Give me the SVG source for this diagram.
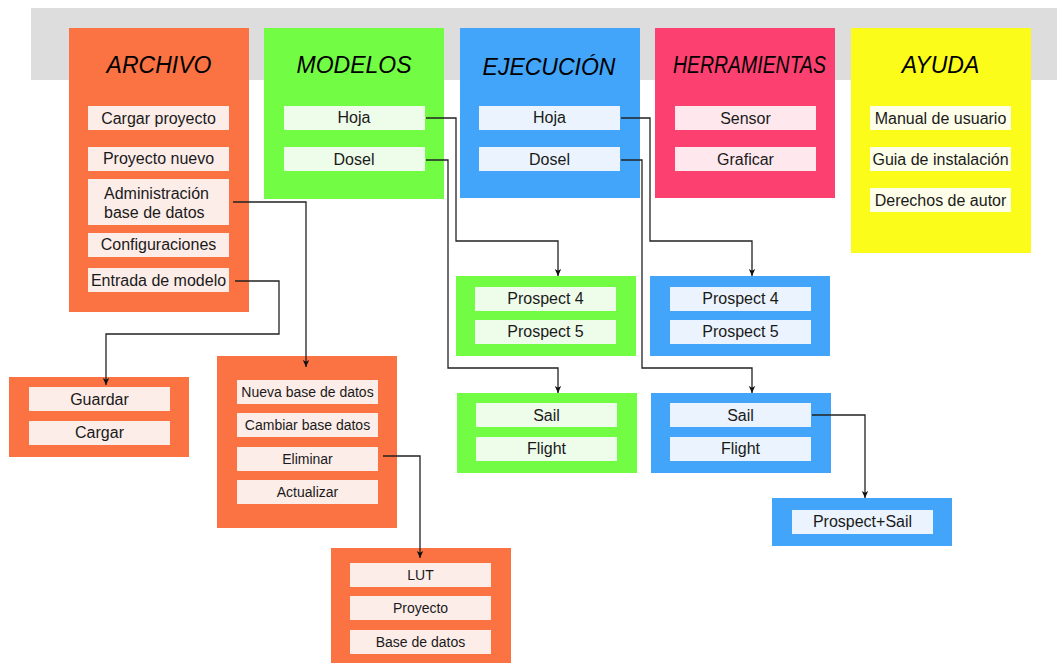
<svg xmlns="http://www.w3.org/2000/svg" width="1057" height="663" viewBox="0 0 1057 663">
<defs>
<style>
.title{font-family:"Liberation Sans",Arial,sans-serif;font-size:23px;font-style:italic;fill:#000;text-anchor:middle}
.t{font-family:"Liberation Sans",Arial,sans-serif;font-size:16px;fill:#1a1a1a;text-anchor:middle}
.s{font-family:"Liberation Sans",Arial,sans-serif;font-size:14px;fill:#1a1a1a;text-anchor:middle}
.or{fill:#FB7343}.gr{fill:#72FC43}.bl{fill:#43A5FA}.rd{fill:#FC4171}.ye{fill:#FCFC1B}
.ior{fill:#FDEDE9}.igr{fill:#EEFCEA}.ibl{fill:#EBF4FE}.ird{fill:#FEE8EE}.iye{fill:#FEFEE9}
.c{fill:none;stroke:#222;stroke-width:1.3}
</style>
<marker id="arr" markerWidth="8" markerHeight="8" refX="7" refY="4" orient="auto" markerUnits="userSpaceOnUse"><path d="M0,0.8 L7,4 L0,7.2 L1.8,4 z" fill="#111"/></marker>
</defs>
<rect x="31" y="8" width="1026" height="72" fill="#DDDDDD"/>

<g id="archivo">
<rect class="or" x="69" y="28" width="180" height="284"/>
<text class="title" x="159" y="73">ARCHIVO</text>
<rect class="ior" x="88" y="106" width="141" height="24"/><text class="t" x="158.5" y="124">Cargar proyecto</text>
<rect class="ior" x="88" y="147" width="141" height="24"/><text class="t" x="158.5" y="164">Proyecto nuevo</text>
<rect class="ior" x="88" y="179" width="141" height="46"/><text class="t" x="104" y="199" style="text-anchor:start">Administración</text><text class="t" x="104" y="218" style="text-anchor:start">base de datos</text>
<rect class="ior" x="88" y="233" width="141" height="24"/><text class="t" x="158.5" y="250">Configuraciones</text>
<rect class="ior" x="88" y="268" width="141" height="24"/><text class="t" x="158.5" y="286">Entrada de modelo</text>
</g>

<g id="modelos">
<rect class="gr" x="264" y="28" width="180" height="171"/>
<text class="title" x="354" y="73">MODELOS</text>
<rect class="igr" x="284" y="106" width="141" height="24"/><text class="t" x="354" y="123">Hoja</text>
<rect class="igr" x="284" y="147" width="141" height="24"/><text class="t" x="354" y="165">Dosel</text>
</g>

<g id="ejecucion">
<rect class="bl" x="460" y="28" width="180" height="170"/>
<text class="title" x="549" y="75">EJECUCIÓN</text>
<rect class="ibl" x="479" y="106" width="141" height="24"/><text class="t" x="549.5" y="123">Hoja</text>
<rect class="ibl" x="479" y="147" width="141" height="24"/><text class="t" x="549.5" y="165">Dosel</text>
</g>

<g id="herramientas">
<rect class="rd" x="655" y="28" width="180" height="170"/>
<text class="title" x="749.5" y="73" textLength="153" lengthAdjust="spacingAndGlyphs">HERRAMIENTAS</text>
<rect class="ird" x="675" y="106" width="141" height="24"/><text class="t" x="745.5" y="124">Sensor</text>
<rect class="ird" x="675" y="147" width="141" height="24"/><text class="t" x="745.5" y="165">Graficar</text>
</g>

<g id="ayuda">
<rect class="ye" x="851" y="28" width="180" height="225"/>
<text class="title" x="940.5" y="73">AYUDA</text>
<rect class="iye" x="870" y="106" width="141" height="24"/><text class="t" x="940.5" y="124">Manual de usuario</text>
<rect class="iye" x="870" y="147" width="141" height="24"/><text class="t" x="940.5" y="165">Guia de instalación</text>
<rect class="iye" x="870" y="188" width="141" height="24"/><text class="t" x="940.5" y="206">Derechos de autor</text>
</g>

<g id="modelos-prospect">
<rect class="gr" x="456" y="276" width="180" height="80"/>
<rect class="igr" x="475" y="287" width="141" height="24"/><text class="t" x="545.5" y="304">Prospect 4</text>
<rect class="igr" x="475" y="320" width="141" height="24"/><text class="t" x="545.5" y="337">Prospect 5</text>
</g>

<g id="ejecucion-prospect">
<rect class="bl" x="650" y="276" width="180" height="80"/>
<rect class="ibl" x="670" y="287" width="141" height="24"/><text class="t" x="740.5" y="304">Prospect 4</text>
<rect class="ibl" x="670" y="320" width="141" height="24"/><text class="t" x="740.5" y="337">Prospect 5</text>
</g>

<g id="modelos-sail">
<rect class="gr" x="457" y="393" width="180" height="80"/>
<rect class="igr" x="476" y="403" width="141" height="24"/><text class="t" x="546.5" y="421">Sail</text>
<rect class="igr" x="476" y="437" width="141" height="24"/><text class="t" x="546.5" y="454">Flight</text>
</g>

<g id="ejecucion-sail">
<rect class="bl" x="651" y="393" width="180" height="80"/>
<rect class="ibl" x="670" y="403" width="141" height="24"/><text class="t" x="740.5" y="421">Sail</text>
<rect class="ibl" x="670" y="437" width="141" height="24"/><text class="t" x="740.5" y="454">Flight</text>
</g>

<g id="prospect-sail">
<rect class="bl" x="772" y="498" width="180" height="48"/>
<rect class="ibl" x="792" y="510" width="141" height="24"/><text class="t" x="862.5" y="527">Prospect+Sail</text>
</g>

<g id="guardar">
<rect class="or" x="9" y="377" width="180" height="80"/>
<rect class="ior" x="29" y="387" width="141" height="24"/><text class="t" x="99.5" y="405">Guardar</text>
<rect class="ior" x="29" y="421" width="141" height="24"/><text class="t" x="99.5" y="438">Cargar</text>
</g>

<g id="basedatos">
<rect class="or" x="217" y="356" width="180" height="172"/>
<rect class="ior" x="237" y="380" width="141" height="24"/><text class="s" x="307.5" y="397">Nueva base de datos</text>
<rect class="ior" x="237" y="413" width="141" height="24"/><text class="s" x="307.5" y="430">Cambiar base datos</text>
<rect class="ior" x="237" y="447" width="141" height="24"/><text class="s" x="307.5" y="464">Eliminar</text>
<rect class="ior" x="237" y="480" width="141" height="24"/><text class="s" x="307.5" y="497">Actualizar</text>
</g>

<g id="eliminar">
<rect class="or" x="331" y="548" width="180" height="115"/>
<rect class="ior" x="350" y="563" width="141" height="24"/><text class="s" x="420.5" y="580">LUT</text>
<rect class="ior" x="350" y="596" width="141" height="24"/><text class="s" x="420.5" y="613">Proyecto</text>
<rect class="ior" x="350" y="630" width="141" height="24"/><text class="s" x="420.5" y="647">Base de datos</text>
</g>

<g id="connectors">
<path class="c" d="M233,202 H306 V367" marker-end="url(#arr)"/>
<path class="c" d="M235,281 H279 V334 H106 V385" marker-end="url(#arr)"/>
<path class="c" d="M383,456 H420 V558" marker-end="url(#arr)"/>
<path class="c" d="M426,118 H456 V241 H558 V276" marker-end="url(#arr)"/>
<path class="c" d="M426,160 H448 V368 H558 V393" marker-end="url(#arr)"/>
<path class="c" d="M621,118 H650 V241 H752 V276" marker-end="url(#arr)"/>
<path class="c" d="M621,160 H642 V368 H752 V393" marker-end="url(#arr)"/>
<path class="c" d="M812,415 H865 V498" marker-end="url(#arr)"/>
</g>
</svg>
